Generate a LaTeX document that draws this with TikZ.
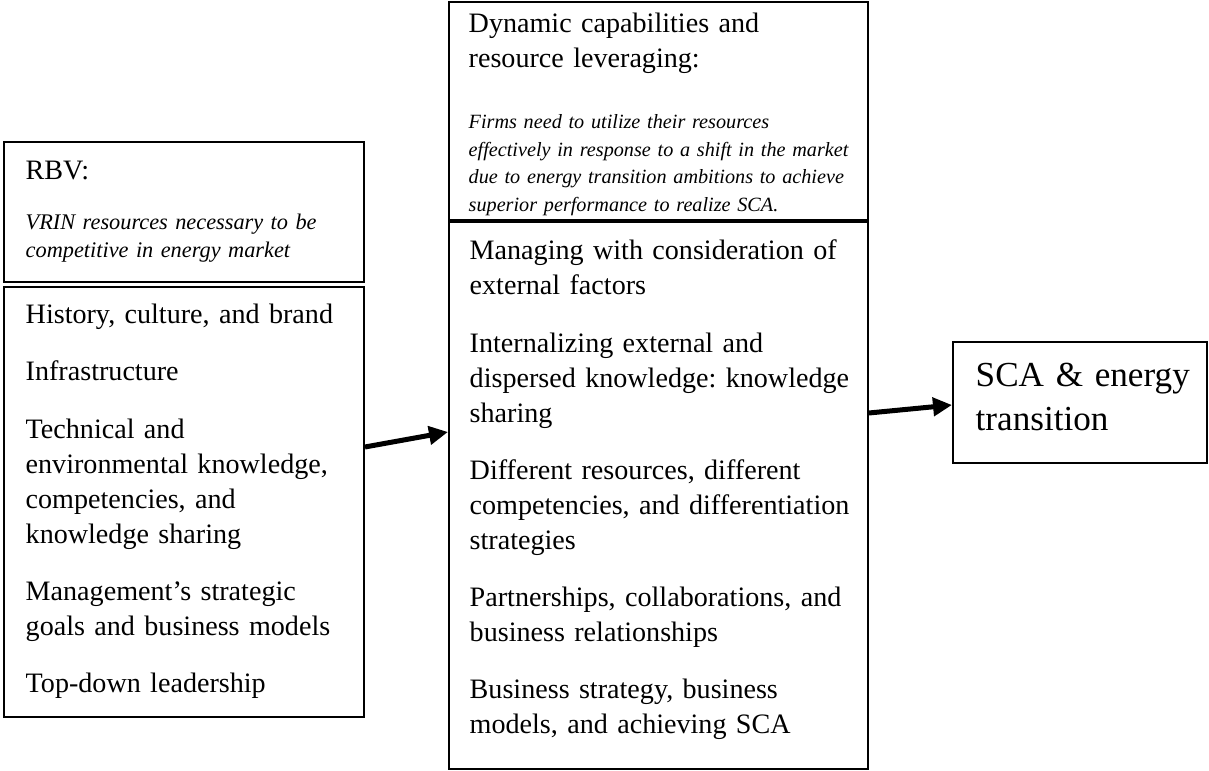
\documentclass[tikz,border=0pt]{standalone}
\usepackage{fontspec}
\setmainfont{Liberation Serif}
\usetikzlibrary{arrows.meta}
\frenchspacing
\tikzset{
  frame/.style={draw, line width=0.02cm, inner sep=0pt, minimum width=#1},
  body/.style={anchor=base west, inner sep=0pt, text width=#1, align=left, font=\fontsize{8}{9.96}\selectfont},
  note/.style={anchor=base west, inner sep=0pt, text width=#1, align=left, font=\itshape\fontsize{6.35}{7.9}\selectfont},
  arr/.style={-{Triangle[length=0.19cm, width=0.18cm]}, line width=0.05cm}
}
\begin{document}
\begin{tikzpicture}
\useasboundingbox (0,0) rectangle (12.09,7.71);
% boxes
\node[frame=3.6cm, minimum height=1.4cm] (rbv) at (1.84,5.59) {};
\node[frame=3.6cm, minimum height=4.3cm] (res) at (1.84,2.69) {};
\node[frame=4.19cm, minimum height=2.18cm] (dyn) at (6.585,6.6) {};
\node[frame=4.19cm, minimum height=5.47cm] (mgmt) at (6.585,2.755) {};
\node[frame=2.54cm, minimum height=1.21cm] (sca) at (10.8,3.685) {};

% texts
\node[body=3.3cm] (rbvT) at (0.25,5.91) {RBV:};
\node[note=3.3cm] (rbvN) at (0.25,5.41) {VRIN resources necessary to be\\ competitive in energy market};
\node[body=3.3cm] (resT) at (0.25,4.47) {History, culture, and brand\\[6.26pt]
  Infrastructure\\[6.26pt]
  Technical and\\ environmental knowledge,\\ competencies, and\\ knowledge sharing\\[6.26pt]
  Management’s strategic\\ goals and business models\\[6.26pt]
  Top-down leadership};
\node[body=3.9cm] (dynT) at (4.68,7.38) {Dynamic capabilities and\\ resource leveraging:};
\node[note=4.15cm, font=\itshape\fontsize{5.75}{7.8}\selectfont] (dynN) at (4.68,6.42) {Firms need to utilize their resources\\ effectively in response to a shift in the market\\ due to energy transition ambitions to achieve\\ superior performance to realize SCA.};
\node[body=3.9cm] (mgmtT) at (4.69,5.11) {Managing with consideration of\\ external factors\\[6.26pt]
  Internalizing external and\\ dispersed knowledge: knowledge\\ sharing\\[6.26pt]
  Different resources, different\\ competencies, and differentiation\\ strategies\\[6.26pt]
  Partnerships, collaborations, and\\ business relationships\\[6.26pt]
  Business strategy, business\\ models, and achieving SCA};
\node[anchor=base west, inner sep=0pt, text width=2.3cm, align=left, font=\fontsize{10}{12.3}\selectfont] (scaT) at (9.75,3.84) {SCA \& energy\\ transition};

% arrows
\draw[arr] (res.east |- 0,3.24) -- (mgmt.west |- 0,3.39);
\draw[arr] (mgmt.east |- 0,3.58) -- (sca.west |- 0,3.66);
\end{tikzpicture}
\end{document}
